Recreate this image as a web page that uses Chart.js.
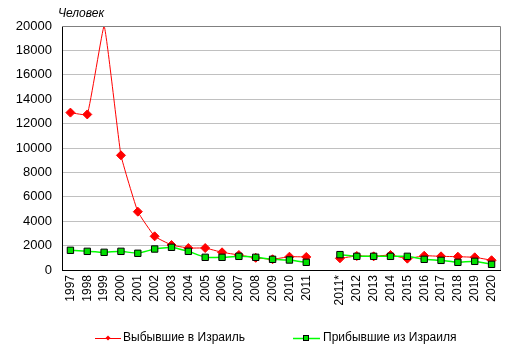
<!DOCTYPE html>
<html><head><meta charset="utf-8">
<script src="https://cdn.jsdelivr.net/npm/chart.js@4/dist/chart.umd.min.js"></script>
<style>html,body{margin:0;padding:0;background:#fff}#wrap{width:514px;height:356px}</style>
</head><body><div id="wrap"><canvas id="c" width="514" height="356"></canvas></div>
<script>
const categories = ['1997','1998','1999','2000','2001','2002','2003','2004','2005','2006','2007','2008','2009','2010','2011','','2011*','2012','2013','2014','2015','2016','2017','2018','2019','2020'];
const emigrated = [12900,12750,20000,9400,4780,2760,2050,1800,1800,1450,1230,1000,880,1090,1070,null,960,1150,1120,1230,930,1170,1120,1090,1040,800];
const arrived = [1615,1530,1450,1530,1370,1720,1860,1530,1040,1040,1120,1040,875,820,630,null,1260,1120,1120,1120,1120,875,790,630,710,465];
const yTicks = [0,2000,4000,6000,8000,10000,12000,14000,16000,18000,20000];
const seriesNames = ['Выбывшие в Израиль','Прибывшие из Израиля'];
const unitLabel = 'Человек';
const Y_MAX = 20000;

const extras = {
  id:'extras',
  afterDraw(chart){
    const {ctx, chartArea:a} = chart;
    ctx.save();
    ctx.strokeStyle='#808080'; ctx.lineWidth=1;
    ctx.beginPath(); ctx.moveTo(a.left, a.top+0.5); ctx.lineTo(a.right+0.5, a.top+0.5); ctx.lineTo(a.right+0.5, a.bottom); ctx.stroke();
    ctx.fillStyle='#000'; ctx.font='italic 12px "Liberation Sans", Arial, sans-serif';
    ctx.textBaseline='middle'; ctx.textAlign='left';
    ctx.fillText(unitLabel, 58, 14);
    const ly = 338;
    ctx.font='12px "Liberation Sans", Arial, sans-serif';
    ctx.strokeStyle='#ff0000'; ctx.lineWidth=1;
    ctx.beginPath(); ctx.moveTo(95, ly+0.5); ctx.lineTo(121, ly+0.5); ctx.stroke();
    ctx.fillStyle='#ff0000';
    ctx.beginPath(); ctx.moveTo(108,ly-2.5); ctx.lineTo(110.5,ly); ctx.lineTo(108,ly+2.5); ctx.lineTo(105.5,ly); ctx.closePath(); ctx.fill();
    ctx.fillStyle='#000'; ctx.fillText(seriesNames[0], 123, ly);
    ctx.strokeStyle='#00ff00'; ctx.lineWidth=1.5;
    ctx.beginPath(); ctx.moveTo(293, ly+0.5); ctx.lineTo(320, ly+0.5); ctx.stroke();
    ctx.fillStyle='#00e000'; ctx.fillRect(304,ly-2,5,5);
    ctx.strokeStyle='#000'; ctx.lineWidth=1; ctx.strokeRect(303.5,ly-2.5,5,5);
    ctx.fillStyle='#000'; ctx.fillText(seriesNames[1], 323, ly);
    ctx.restore();
  }
};

new Chart(document.getElementById('c'), {
  type:'line',
  data:{
    labels:categories,
    datasets:[
      {label:seriesNames[0], data:emigrated, order:1, borderColor:'#ff0000', backgroundColor:'#ff0000', borderWidth:1,
       pointStyle:'rectRot', pointRadius:c=>(c.parsed && c.parsed.y>=Y_MAX)?0:4.5, pointBorderColor:'#ff0000', pointBackgroundColor:'#ff0000', pointBorderWidth:1, tension:0.1, spanGaps:false},
      {label:seriesNames[1], data:arrived, order:0, borderColor:'#00ff00', backgroundColor:'#00e000', borderWidth:1.5,
       pointStyle:'rect', pointRadius:4.5, pointBorderColor:'#000', pointBackgroundColor:'#00e000', pointBorderWidth:1, tension:0.1, spanGaps:false}
    ]
  },
  options:{
    responsive:false, animation:false, devicePixelRatio:1,
    layout:{padding:{top:26,left:0,right:14,bottom:0}},
    plugins:{legend:{display:false}, tooltip:{enabled:false}},
    scales:{
      x:{
        offset:true,
        grid:{display:false, drawTicks:false},
        border:{color:'#000', width:1},
        ticks:{autoSkip:false, maxRotation:90, minRotation:90, padding:5, color:'#000', font:{family:'"Liberation Sans", Arial, sans-serif', size:12}},
        afterFit:s=>{s.height=86;}
      },
      y:{
        min:0, max:Y_MAX,
        afterBuildTicks:s=>{s.ticks=yTicks.map(v=>({value:v}));},
        grid:{color:'#c0c0c0', drawTicks:false},
        border:{color:'#000', width:1},
        ticks:{padding:10, color:'#000', font:{family:'"Liberation Sans", Arial, sans-serif', size:13}, callback:v=>String(v)},
        afterFit:s=>{s.width=62;}
      }
    }
  },
  plugins:[extras]
});
</script></body></html>
